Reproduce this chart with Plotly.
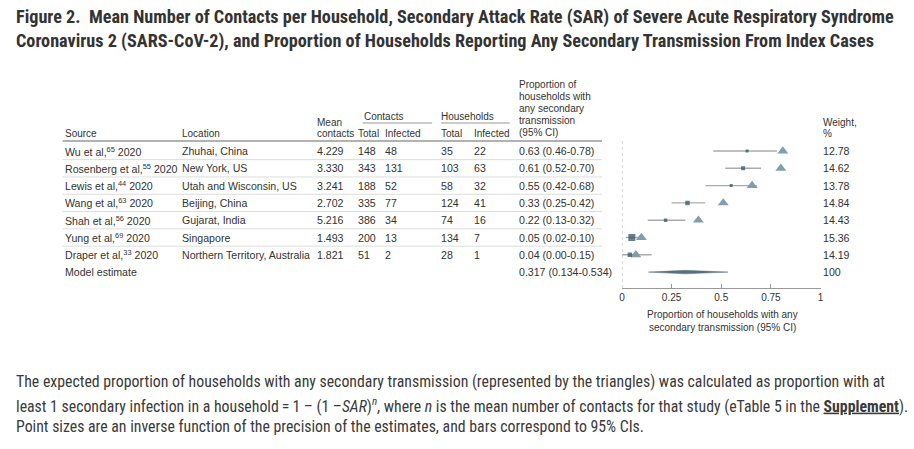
import plotly.graph_objects as go

W, H = 914, 449

sources = ["Wu et al,<sup>65</sup> 2020", "Rosenberg et al,<sup>55</sup> 2020", "Lewis et al,<sup>44</sup> 2020",
           "Wang et al,<sup>63</sup> 2020", "Shah et al,<sup>56</sup> 2020", "Yung et al,<sup>69</sup> 2020",
           "Draper et al,<sup>33</sup> 2020"]
locations = ["Zhuhai, China", "New York, US", "Utah and Wisconsin, US", "Beijing, China",
             "Gujarat, India", "Singapore", "Northern Territory, Australia"]
mean_contacts = ["4.229", "3.330", "3.241", "2.702", "5.216", "1.493", "1.821"]
contacts_total = ["148", "343", "188", "335", "386", "200", "51"]
contacts_inf = ["48", "131", "52", "77", "34", "13", "2"]
hh_total = ["35", "103", "58", "124", "74", "134", "28"]
hh_inf = ["22", "63", "32", "41", "16", "7", "1"]
prop = [0.63, 0.61, 0.55, 0.33, 0.22, 0.05, 0.04]
lo = [0.46, 0.52, 0.42, 0.25, 0.13, 0.02, 0.00]
hi = [0.78, 0.70, 0.68, 0.42, 0.32, 0.10, 0.15]
expected = [0.81, 0.80, 0.655, 0.51, 0.385, 0.098, 0.07]
weights = ["12.78", "14.62", "13.78", "14.84", "14.43", "15.36", "14.19"]
point_size = [3, 4, 3, 4.5, 3.5, 7, 4.5]
model_est, model_lo, model_hi = 0.317, 0.134, 0.534
model_weight = "100"
xticks = [0, 0.25, 0.5, 0.75, 1]
xticklabels = ["0", "0.25", "0.5", "0.75", "1"]

NARROW = "Roboto Condensed, sans-serif"
FONT = "Liberation Sans, Arial, sans-serif"
TXT = "#333333"
DARK = "#2c4a57"
LIGHT = "#7f9fb0"
GRAY = "#ababab"

def px(x):
    return x / W

def py(y):
    return 1 - y / H

fig = go.Figure()
n = len(prop)
rows = list(range(n))
model_row = n

# CI lines
for i in rows:
    fig.add_trace(go.Scatter(x=[lo[i], hi[i]], y=[i, i], mode="lines",
                             line=dict(color=GRAY, width=1.4), showlegend=False, hoverinfo="skip"))
# Expected triangles
fig.add_trace(go.Scatter(x=expected, y=rows, mode="markers",
                         marker=dict(symbol="triangle-up", size=9.5, color=LIGHT, line=dict(width=0)),
                         showlegend=False))
# Point estimates
fig.add_trace(go.Scatter(x=prop, y=rows, mode="markers",
                         marker=dict(symbol="square", size=point_size, color=DARK, line=dict(width=0)),
                         showlegend=False))
# Model estimate diamond
dh = 0.1
fig.add_trace(go.Scatter(x=[model_lo, model_est, model_hi, model_est, model_lo],
                         y=[model_row, model_row - dh, model_row, model_row + dh, model_row],
                         mode="lines", fill="toself", fillcolor="#56717e",
                         line=dict(color="#56717e", width=0.5), showlegend=False, hoverinfo="skip"))

ann = []
def text(x, y, s, yref="paper", size=10.6, bold=False, color=TXT, xanchor="left", family=FONT):
    if bold:
        s = "<b>" + s + "</b>"
    ann.append(dict(x=px(x), y=(py(y) if yref == "paper" else y), xref="paper", yref=yref, text=s,
                    showarrow=False, xanchor=xanchor, yanchor="middle", borderpad=0,
                    font=dict(family=family, size=size, color=color)))

# Title
text(12, 17, "Figure 2.  Mean Number of Contacts per Household, Secondary Attack Rate (SAR) of Severe Acute Respiratory Syndrome", size=18.2, bold=True, family=NARROW)
text(12, 41, "Coronavirus 2 (SARS-CoV-2), and Proportion of Households Reporting Any Secondary Transmission From Index Cases", size=18.2, bold=True, family=NARROW)

# Headers
hdr = 10
text(61, 133, "Source", size=hdr)
text(179, 133, "Location", size=hdr)
text(315, 122, "Mean", size=hdr)
text(315, 133, "contacts", size=hdr)
text(362, 116, "Contacts", size=hdr)
text(356, 133, "Total", size=hdr)
text(384, 133, "Infected", size=hdr)
text(440, 116, "Households", size=hdr)
text(440, 133, "Total", size=hdr)
text(473, 133, "Infected", size=hdr)
for k, s in enumerate(["Proportion of", "households with", "any secondary", "transmission", "(95% CI)"]):
    text(518, 84 + 12.2 * k, s, size=hdr)
text(824, 122, "Weight,", size=hdr)
text(824, 133, "%", size=hdr)

# Rows
for i in rows:
    text(61, i, sources[i], yref="y")
    text(179, i, locations[i], yref="y")
    text(315, i, mean_contacts[i], yref="y")
    text(356, i, contacts_total[i], yref="y")
    text(384, i, contacts_inf[i], yref="y")
    text(440, i, hh_total[i], yref="y")
    text(473, i, hh_inf[i], yref="y")
    text(518, i, f"{prop[i]:.2f} ({lo[i]:.2f}-{hi[i]:.2f})", yref="y")
    text(824, i, weights[i], yref="y")
text(61, model_row, "Model estimate", yref="y")
text(518, model_row, f"{model_est:.3f} ({model_lo:.3f}-{model_hi:.3f})", yref="y")
text(824, model_row, model_weight, yref="y")

# Axis title
text(724, 314, "Proportion of households with any", size=10, xanchor="center")
text(724, 327, "secondary transmission (95% CI)", size=10, xanchor="center")

# Caption
cap = 15.8
text(12, 381, "The expected proportion of households with any secondary transmission (represented by the triangles) was calculated as proportion with at", size=cap, color="#3a3a3a", family=NARROW)
text(12, 405, "least 1 secondary infection in a household\u2009=\u20091 \u2013 (1 \u2013<i>SAR</i>)<sup><i>n</i></sup>, where <i>n</i> is the mean number of contacts for that study (eTable 5 in the <b><u>Supplement</u></b>).", size=cap, color="#3a3a3a", family=NARROW)
text(12, 426, "Point sizes are an inverse function of the precision of the estimates, and bars correspond to 95% CIs.", size=cap, color="#3a3a3a", family=NARROW)

shapes = []
# header lines
shapes.append(dict(type="line", xref="paper", yref="paper", x0=px(60), x1=px(603), y0=py(141), y1=py(141),
                   line=dict(color="#999999", width=1.5)))
shapes.append(dict(type="line", xref="paper", yref="paper", x0=px(362), x1=px(432), y0=py(123), y1=py(123),
                   line=dict(color="#999999", width=1)))
shapes.append(dict(type="line", xref="paper", yref="paper", x0=px(441), x1=px(510), y0=py(123), y1=py(123),
                   line=dict(color="#999999", width=1)))
for i in rows[:-1]:
    shapes.append(dict(type="line", xref="paper", yref="y", x0=px(60), x1=px(603), y0=i + 0.5, y1=i + 0.5,
                       line=dict(color="#dddddd", width=1)))
# dotted zero line
shapes.append(dict(type="line", xref="x", yref="y domain", x0=0, x1=0, y0=0, y1=1,
                   line=dict(color="#aaaaaa", width=1, dash="dot")))

ytop_px, ybot_px = 140, 288
row0_px, step = 151, 17.3
fig.update_layout(
    width=W, height=H, margin=dict(l=0, r=0, t=0, b=0),
    paper_bgcolor="white", plot_bgcolor="white",
    annotations=ann, shapes=shapes,
    xaxis=dict(domain=[px(623), px(823)], range=[0, 1], tickvals=xticks, ticktext=xticklabels,
               showgrid=False, zeroline=False, showline=True, linecolor="#999999", linewidth=1,
               ticks="inside", ticklen=4, tickcolor="#999999",
               tickfont=dict(family=FONT, size=10, color=TXT)),
    yaxis=dict(domain=[py(ybot_px), py(ytop_px)],
               range=[(ybot_px - row0_px) / step, (ytop_px - row0_px) / step],
               visible=False, showgrid=False, zeroline=False),
    showlegend=False,
)

fig.write_html("out.html", config={"displayModeBar": False},
               post_script="document.body.style.margin='0';")
